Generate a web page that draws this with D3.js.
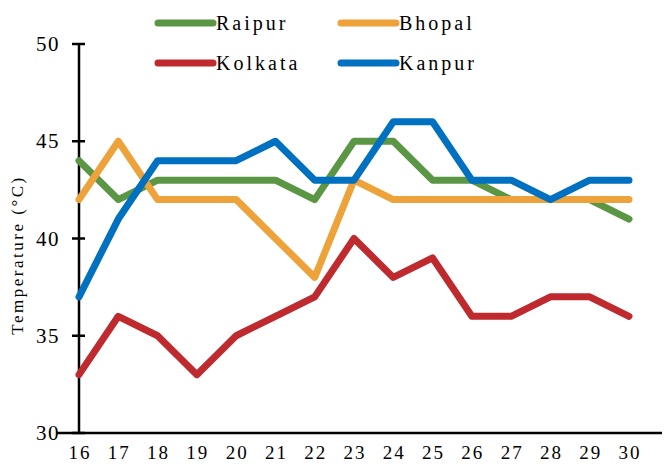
<!DOCTYPE html>
<html><head><meta charset="utf-8">
<script src="https://cdn.jsdelivr.net/npm/d3@7"></script>
<style>body{margin:0;background:#fff}</style>
</head><body><svg id="c" width="664" height="466"></svg>
<script>
const days = [16,17,18,19,20,21,22,23,24,25,26,27,28,29,30];
const raipur  = [44,42,43,43,43,43,42,45,45,43,43,42,42,42,41];
const bhopal  = [42,45,42,42,42,40,38,43,42,42,42,42,42,42,42];
const kolkata = [33,36,35,33,35,36,37,40,38,39,36,36,37,37,36];
const kanpur  = [37,41,44,44,44,45,43,43,46,46,43,43,42,43,43];
const yTicks = [30,35,40,45,50];
const seriesNames = ["Raipur","Bhopal","Kolkata","Kanpur"];
const colors = ["#5B9645","#EDA23A","#BF2A2F","#0070C0"];
const seriesData = [raipur,bhopal,kolkata,kanpur];

const font = "'Liberation Serif', 'Times New Roman', serif";
const svg = d3.select("#c");
const x = d3.scaleLinear().domain([16,30]).range([79,629]);
const y = d3.scaleLinear().domain([30,50]).range([433,44]);

// y axis
svg.append("line").attr("x1",79).attr("x2",79).attr("y1",y(50)).attr("y2",y(30))
  .attr("stroke","#000").attr("stroke-width",2.5);
svg.selectAll(".yt").data(yTicks).enter().append("line")
  .attr("x1",72).attr("x2",85).attr("y1",d=>y(d)).attr("y2",d=>y(d))
  .attr("stroke","#000").attr("stroke-width",2.5);
svg.selectAll(".yl").data(yTicks).enter().append("text")
  .attr("x",60).attr("y",d=>y(d)+7).attr("text-anchor","end")
  .attr("font-family",font).attr("font-size",21).attr("letter-spacing",1.5).text(d=>d);
// x axis
svg.append("line").attr("x1",57).attr("x2",662).attr("y1",y(30)).attr("y2",y(30))
  .attr("stroke","#000").attr("stroke-width",2.5);
svg.selectAll(".xl").data(days).enter().append("text")
  .attr("x",d=>x(d)+1).attr("y",459).attr("text-anchor","middle")
  .attr("font-family",font).attr("font-size",19).attr("letter-spacing",2).text(d=>d);
// y title
svg.append("text").attr("transform","translate(23,255) rotate(-90)")
  .attr("text-anchor","middle").attr("font-family",font).attr("font-size",17)
  .attr("letter-spacing",2.5).text("Temperature (°C)");

const line = d3.line().x((d,i)=>x(days[i])).y(d=>y(d));
seriesData.forEach((s,k)=>{
  svg.append("path").attr("d",line(s)).attr("fill","none")
    .attr("stroke",colors[k]).attr("stroke-width",7)
    .attr("stroke-linecap","round").attr("stroke-linejoin","round");
});

// legend
const lx = [158,341], ly = [23,63];
seriesNames.forEach((n,k)=>{
  const cx = lx[k%2], cy = ly[Math.floor(k/2)];
  svg.append("line").attr("x1",cx).attr("x2",cx+55).attr("y1",cy).attr("y2",cy)
    .attr("stroke",colors[k]).attr("stroke-width",7).attr("stroke-linecap","round");
  svg.append("text").attr("x",cx+58).attr("y",cy+7).attr("font-family",font)
    .attr("font-size",20).attr("letter-spacing",3).text(n);
});
</script></body></html>
